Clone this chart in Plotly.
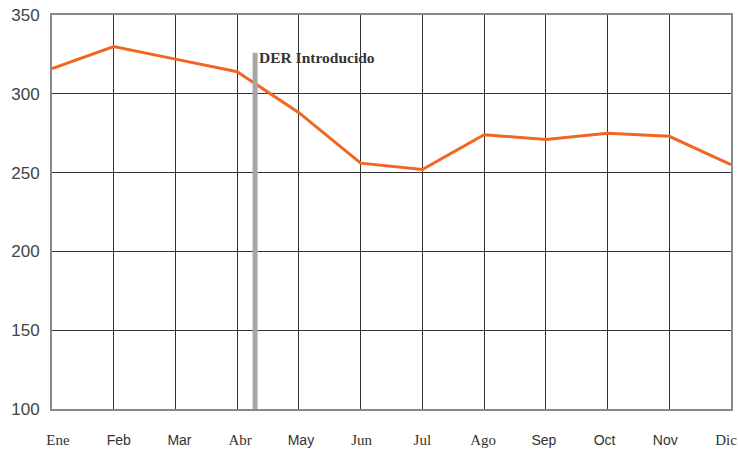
import plotly.graph_objects as go

months = ["Ene", "Feb", "Mar", "Abr", "May", "Jun", "Jul", "Ago", "Sep", "Oct", "Nov", "Dic"]
serif_months = {"Ene", "Abr", "Jun", "Jul", "Ago", "Dic"}
values = [316, 330, 322, 314, 288, 256, 252, 274, 271, 275, 273, 255]
y_ticks = [100, 150, 200, 250, 300, 350]
der_label = "DER Introducido"
der_pos = 3.29
der_top = 326

x_idx = list(range(len(months)))
tick_text = []
for m in months:
    if m in serif_months:
        tick_text.append(f"<span style='font-family:Liberation Serif;font-size:15px'>{m}</span>")
    else:
        tick_text.append(f"<span style='font-family:Liberation Sans;font-size:14px'>{m}</span>")

fig = go.Figure()
fig.add_trace(go.Scatter(
    x=x_idx, y=values, mode="lines",
    line=dict(color="#f26522", width=3),
    hoverinfo="skip", showlegend=False,
))
# invisible trace on the label axis so it is rendered
fig.add_trace(go.Scatter(
    x=x_idx, y=values, mode="lines", xaxis="x2",
    line=dict(color="rgba(0,0,0,0)", width=0),
    hoverinfo="skip", showlegend=False,
))

fig.add_shape(type="line", xref="x", yref="y",
              x0=der_pos, x1=der_pos, y0=y_ticks[0], y1=der_top,
              line=dict(color="#a6a6a6", width=5), layer="above")
fig.add_annotation(x=der_pos, y=der_top - 3, xref="x", yref="y",
                   text=f"<b>{der_label}</b>", showarrow=False,
                   xanchor="left", yanchor="middle", xshift=2,
                   font=dict(family="Liberation Serif", size=15.5, color="#333"))

fig.update_layout(
    width=738, height=450,
    margin=dict(l=52, r=7, t=15, b=41),
    paper_bgcolor="white", plot_bgcolor="white",
    xaxis=dict(
        range=[0, 11], tickvals=x_idx, showticklabels=False,
        showgrid=True, gridcolor="#333", gridwidth=1,
        showline=True, linecolor="#888", linewidth=2, mirror=True,
        zeroline=False, ticks="", automargin=False,
    ),
    xaxis2=dict(
        overlaying="x", side="bottom", anchor="y",
        range=[-0.0988, 11.082], tickvals=x_idx, ticktext=tick_text,
        showgrid=False, showline=False, zeroline=False, ticks="",
        ticklabelstandoff=21, ticklabeloverflow="allow", automargin=False,
        tickfont=dict(size=14, color="#333"),
    ),
    yaxis=dict(
        range=[100, 350], tickvals=y_ticks,
        showgrid=True, gridcolor="#333", gridwidth=1,
        showline=True, linecolor="#888", linewidth=2, mirror=True,
        zeroline=False, ticks="", ticklabelstandoff=7, automargin=False,
        tickfont=dict(family="Liberation Sans", size=17, color="#444"),
    ),
)

fig.write_html("out.html", config={"displayModeBar": False},
               post_script="document.body.style.margin='0';document.body.style.overflow='hidden';")
